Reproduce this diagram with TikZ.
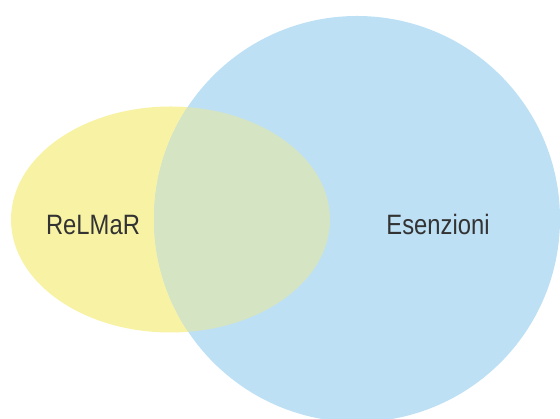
\documentclass[tikz,border=0pt]{standalone}
\usepackage{fontspec}
\newfontfamily\vennfont[FakeStretch=0.85]{Liberation Sans}
\usepackage{tikz}
\definecolor{relmaryellow}{HTML}{F8F3A4}
\definecolor{esenzioniblue}{HTML}{BDE0F5}
\definecolor{overlapgreen}{HTML}{D5E4C3}
\definecolor{labelgray}{HTML}{333333}
\tikzset{
  vennlabel/.style={anchor=base, inner sep=0pt, text=labelgray,
                    font=\vennfont\fontsize{28}{30}\selectfont}
}

\begin{document}
\begin{tikzpicture}[
    x=1pt, y=1pt
]
  \useasboundingbox (0,0) rectangle (560,419);
  \fill[relmaryellow] (170.5,199.5) ellipse [x radius=159.5, y radius=113];
  \fill[esenzioniblue] (357,200) circle [radius=203];
  % Intersection of the two sets.
  \begin{scope}
    \clip (170.5,199.5) ellipse [x radius=159.5, y radius=113];
    \fill[overlapgreen] (357,200) circle [radius=203];
  \end{scope}
  \node[vennlabel] (relmar) at (93,184) {ReLMaR};
  \node[vennlabel] (esenzioni) at (438,184) {Esenzioni};
\end{tikzpicture}
\end{document}
